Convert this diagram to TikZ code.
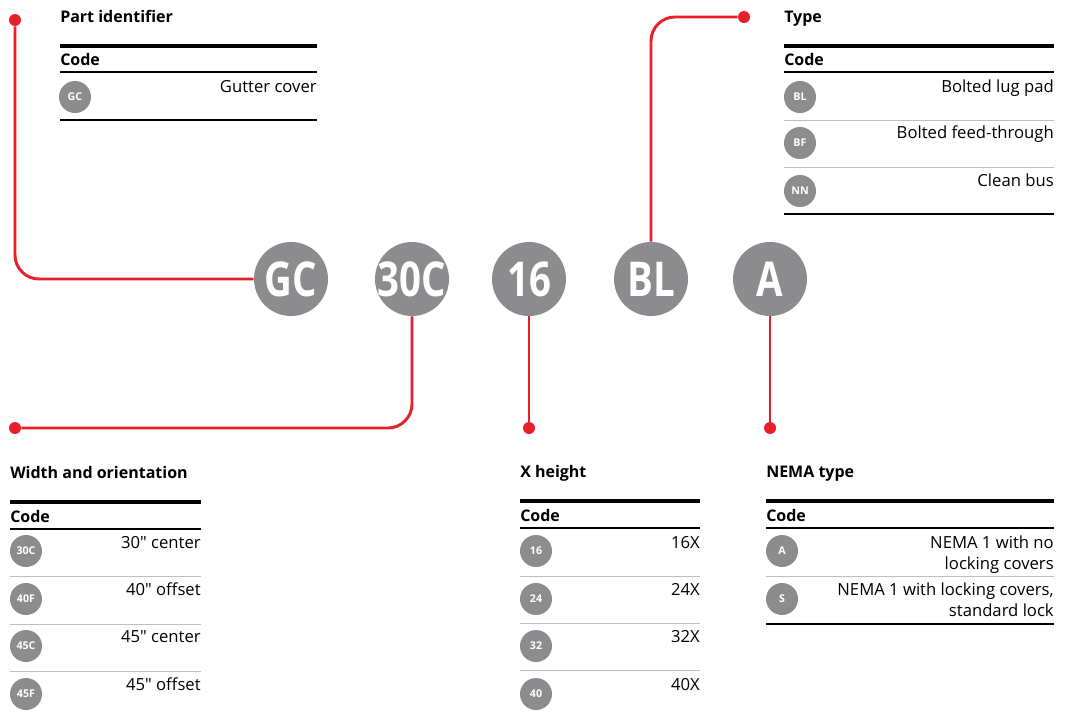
\documentclass[tikz,border=0pt]{standalone}
\usepackage{fontspec}
\setmainfont{Open Sans}[Ligatures=TeXOff]
\newfontfamily\bigfont[FakeStretch=0.8]{Open Sans}
\definecolor{abbred}{RGB}{232,32,42}
\definecolor{codegray}{RGB}{140,140,142}
\begin{document}
\begin{tikzpicture}[x=0.75pt,y=-0.75pt,
    bigcode/.style={circle,fill=codegray,text=white,inner sep=-10pt,minimum size=55.5pt,font=\bigfont\fontsize{36}{36}\selectfont\bfseries},
    smallcode/.style={circle,fill=codegray,text=white,inner sep=0,minimum size=24pt,font=\fontsize{8}{8}\selectfont\bfseries},
    wire/.style={abbred,line width=2.2pt,rounded corners=18pt},
    dot/.style={circle,fill=abbred,inner sep=0,minimum size=9pt},
    heading/.style={anchor=base west,inner sep=0,font=\fontsize{12}{14}\selectfont\bfseries},
    entry/.style={anchor=base east,inner sep=0,font=\fontsize{12.5}{15.75}\selectfont},
    toprule/.style={line width=3pt},
    midrule/.style={line width=1.8pt},
    seprule/.style={black!25,line width=0.75pt}]
    \fill[white] (0,0) rectangle (1072,715);
    \node[bigcode] (gc) at (291,279) {GC};
    \node[bigcode] (w30) at (412,279) {30C};
    \node[bigcode] (h16) at (529,279) {16};
    \node[bigcode] (bl) at (651,279) {BL};
    \node[bigcode] (na) at (770,279) {A};
    \node[dot] (pdot) at (15,20) {};
    \node[dot] (wdot) at (15,428) {};
    \node[dot] (hdot) at (529,428) {};
    \node[dot] (tdot) at (744,17) {};
    \node[dot] (ndot) at (770,428) {};
    \draw[wire] (gc.west) -| (pdot);
    \draw[wire] (w30.south) |- (wdot);
    \draw[wire] (h16.south) -- (hdot);
    \draw[wire] (bl.north) |- (tdot);
    \draw[wire] (na.south) -- (ndot);
    \node[heading] (ptitle) at (60,22) {Part identifier};
    \draw[toprule] (60,46) -- (317,46);
    \node[heading] (pcode) at (60,65) {Code};
    \draw[midrule] (60,72) -- (317,72);
    \node[smallcode] (pgc) at (75,97) {GC};
    \node[entry] (pgctext) at (317,92) {Gutter cover};
    \draw[midrule] (60,120) -- (317,120);
    \node[heading] (ttitle) at (784,22) {Type};
    \draw[toprule] (784,46) -- (1054,46);
    \node[heading] (tcode) at (784,65) {Code};
    \draw[midrule] (784,72) -- (1054,72);
    \node[smallcode] (tbl) at (800,97) {BL};
    \node[entry] (tbltext) at (1054,92) {Bolted lug pad};
    \draw[seprule] (784,120) -- (1054,120);
    \node[smallcode] (tbf) at (800,143) {BF};
    \node[entry] (tbftext) at (1054,138) {Bolted feed-through};
    \draw[seprule] (784,167) -- (1054,167);
    \node[smallcode] (tnn) at (800,191) {NN};
    \node[entry] (tnntext) at (1054,186) {Clean bus};
    \draw[midrule] (784,214) -- (1054,214);
    \node[heading] (wtitle) at (10,478) {Width and orientation};
    \draw[toprule] (10,502) -- (201,502);
    \node[heading] (wcode) at (10,522) {Code};
    \draw[midrule] (10,529) -- (201,529);
    \node[smallcode] (w30c) at (26,551) {30C};
    \node[entry] (w30ctext) at (201,548) {30" center};
    \draw[seprule] (10,576) -- (201,576);
    \node[smallcode] (w40f) at (26,599) {40F};
    \node[entry] (w40ftext) at (201,595) {40" offset};
    \draw[seprule] (10,624) -- (201,624);
    \node[smallcode] (w45c) at (26,646) {45C};
    \node[entry] (w45ctext) at (201,642) {45" center};
    \draw[seprule] (10,671) -- (201,671);
    \node[smallcode] (w45f) at (26,694) {45F};
    \node[entry] (w45ftext) at (201,690) {45" offset};
    \node[heading] (htitle) at (520,477) {X height};
    \draw[toprule] (520,501) -- (700,501);
    \node[heading] (hcode) at (520,521) {Code};
    \draw[midrule] (520,528) -- (700,528);
    \node[smallcode] (h16c) at (536,551) {16};
    \node[entry] (h16text) at (700,548) {16X};
    \draw[seprule] (520,576) -- (700,576);
    \node[smallcode] (h24c) at (536,599) {24};
    \node[entry] (h24text) at (700,595) {24X};
    \draw[seprule] (520,623) -- (700,623);
    \node[smallcode] (h32c) at (536,646) {32};
    \node[entry] (h32text) at (700,642) {32X};
    \draw[seprule] (520,670) -- (700,670);
    \node[smallcode] (h40c) at (536,694) {40};
    \node[entry] (h40text) at (700,690) {40X};
    \node[heading] (ntitle) at (766,477) {NEMA type};
    \draw[toprule] (766,501) -- (1054,501);
    \node[heading] (ncode) at (766,521) {Code};
    \draw[midrule] (766,528) -- (1054,528);
    \node[smallcode] (nac) at (782,551) {A};
    \node[entry] (natext) at (1054,548) {NEMA 1 with no};
    \node[entry] (natext2) at (1054,569) {locking covers};
    \draw[seprule] (766,576) -- (1054,576);
    \node[smallcode] (nsc) at (782,599) {S};
    \node[entry] (nstext) at (1054,595) {NEMA 1 with locking covers,};
    \node[entry] (nstext2) at (1054,616) {standard lock};
    \draw[midrule] (766,624) -- (1054,624);
\end{tikzpicture}
\end{document}
